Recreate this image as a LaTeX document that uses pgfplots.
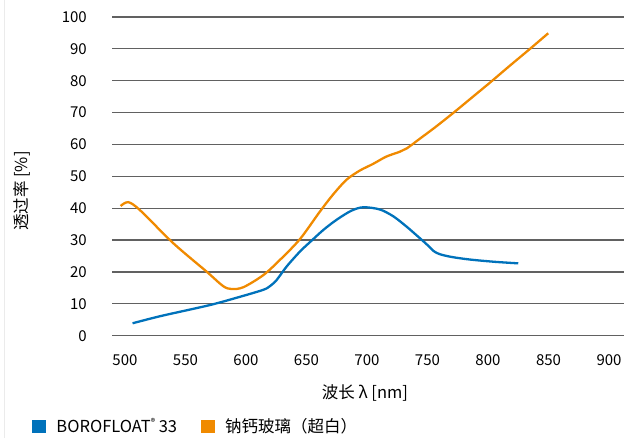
\documentclass[border=0pt]{standalone}
\usepackage{fontspec}
\setmainfont{Noto Sans CJK SC}
\usepackage{pgfplots}
\pgfplotsset{compat=1.18}
\definecolor{bblue}{RGB}{0,114,187}
\definecolor{borange}{RGB}{240,138,0}
\begin{document}
\fontsize{15bp}{17bp}\selectfont
\begin{tikzpicture}
\path[use as bounding box] (0,0) rectangle (633bp,438bp);
\draw[black!8, line width=0.8bp] (4.5bp,0) -- (4.5bp,438bp);
\begin{axis}[
  at={(112bp,102.3bp)}, anchor=south west,
  scale only axis, width=512bp, height=318.7bp,
  xmin=489.3, xmax=912.4, ymin=0, ymax=100,
  xtick={500,550,...,900}, ytick={0,10,...,100},
  axis line style={draw=none}, tick style={draw=none},
  ymajorgrids, grid style={black!62, line width=1.2bp},
  /pgf/number format/assume math mode=true,
  /pgf/number format/1000 sep={},
  ticklabel style={font=\fontsize{15bp}{17bp}\selectfont},
  xticklabel style={yshift=-14bp},
  yticklabel style={xshift=-20bp},
  xlabel={波长 λ [nm]}, ylabel={透过率 [\%]},
  label style={font=\fontsize{16.5bp}{18bp}\selectfont},
  xlabel style={at={(axis description cs:0.494,-0.18)}, anchor=center},
  ylabel style={at={(axis description cs:-0.176,0.454)}, anchor=center},
  legend style={at={(axis description cs:-0.156,-0.285)}, anchor=west,
    draw=none, fill=none, inner sep=0pt, font=\fontsize{16.5bp}{18bp}\selectfont,
    /tikz/every even column/.append style={column sep=22bp}},
  legend columns=2,
  legend image code/.code={\fill[#1,draw=none] (0bp,-6.5bp) rectangle (14bp,6.5bp); \path (21bp,0bp);},
  every axis plot/.append style={line width=2.3bp, smooth, tension=0.5},
]
\addplot[bblue] coordinates {
(506.3,3.9) (530,6.2) (570,9.6) (595,12.2) (614.3,14.4) (620,15.6) (625.4,17.5)
(633.6,21.7) (644.6,26.4) (653,29.4) (664,33.2) (675,36.4) (687,39.2) (697,40.3)
(710.7,39.6) (722,37.4) (732.8,34.2) (741,31.5) (749,28.8) (755,26.6) (760,25.6)
(770,24.7) (785,23.9) (805,23.2) (825,22.7)};
\addlegendentry{BOROFLOAT\raisebox{0.45em}{\fontsize{9bp}{9bp}\selectfont ®} 33}
\addplot[borange] coordinates {
(496.4,40.7) (502.7,41.9) (512.4,39.4) (540,29) (567.5,20.1) (581,15.6) (588,14.65)
(597.8,15.2) (614.3,19) (628,23.75) (644.6,30.3) (661,38.9) (672,44.3) (683,48.9)
(694,51.8) (705,53.9) (716,56.2) (727,57.7) (733,58.8) (744,61.9) (756,65.3)
(771,69.8) (786,74.5) (801.6,79.4) (818,84.7) (834.7,90) (849.8,94.9)};
\addlegendentry{钠钙玻璃（超白）}
\end{axis}
\end{tikzpicture}
\end{document}
